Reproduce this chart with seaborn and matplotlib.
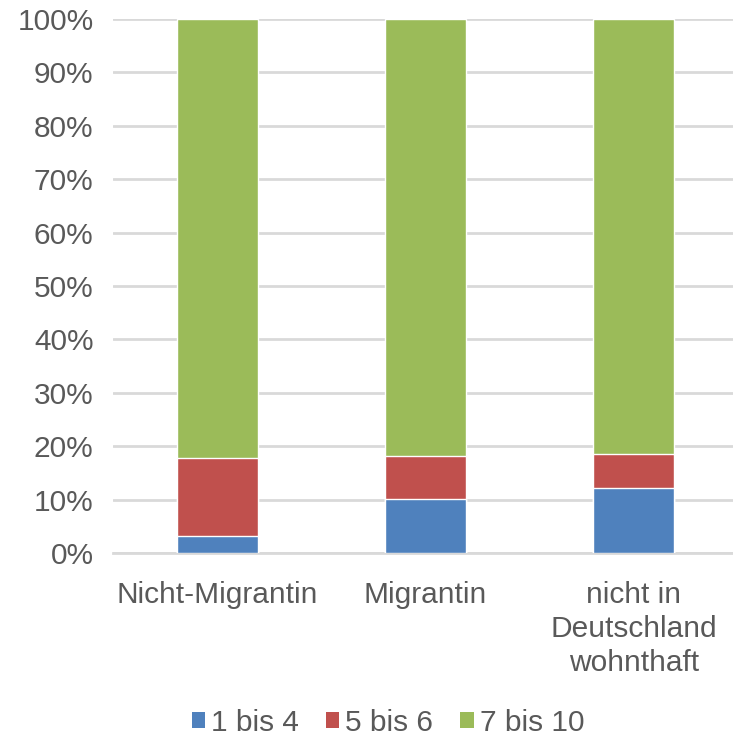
import matplotlib
matplotlib.use("Agg")
import matplotlib.pyplot as plt
import seaborn as sns
import pandas as pd
import numpy as np
from matplotlib.patches import Patch

categories = ["Nicht-Migrantin", "Migrantin", "nicht in\nDeutschland\nwohnthaft"]
series_names = ["1 bis 4", "5 bis 6", "7 bis 10"]
s1 = [3.1, 10.2, 12.2]
s2 = [14.7, 7.9, 6.4]
s3 = [82.2, 81.9, 81.4]
colors = ["#4F81BD", "#C0504D", "#9BBB59"]
yticks = [0, 10, 20, 30, 40, 50, 60, 70, 80, 90, 100]

sns.set_theme(style="white")
plt.rcParams["font.family"] = ["Liberation Sans", "DejaVu Sans"]

fig = plt.figure(figsize=(7.33, 7.39), dpi=100)
ax = fig.add_axes([113/733, (739-553)/739, 625/733, 534/739])

layers = [s1, s2, s3]
cum = np.cumsum(np.array(layers), axis=0)
for i in range(len(layers) - 1, -1, -1):
    df = pd.DataFrame({"cat": categories, "val": cum[i]})
    sns.barplot(data=df, x="cat", y="val", color=colors[i], width=0.39,
                saturation=1, ax=ax, zorder=3)

fs = 21.5
ax.set_ylim(0, 100)
ax.set_xlim(-0.5, 2.5)
ax.set_yticks(yticks)
ax.set_yticklabels([f"{v}%" for v in yticks])
ax.yaxis.grid(True, color="#d9d9d9", linewidth=2, zorder=0)
ax.set_axisbelow(True)
for sp in ["left", "right", "top"]:
    ax.spines[sp].set_visible(False)
ax.spines["bottom"].set_color("#d9d9d9")
ax.spines["bottom"].set_linewidth(2)
ax.set_xlabel("")
ax.set_ylabel("")
ax.tick_params(axis="both", length=0, labelsize=fs, labelcolor="#595959")
ax.tick_params(axis="y", pad=14)
ax.tick_params(axis="x", pad=20)
for lbl in ax.get_xticklabels():
    lbl.set_linespacing(1.27)

handles = [Patch(facecolor=c, edgecolor="none") for c in colors]
fig.legend(handles, series_names, loc="center", bbox_to_anchor=(388/733, 1 - 723/739),
           ncol=3, frameon=False, fontsize=fs, labelcolor="#595959",
           handlelength=0.45, handleheight=0.45, handletextpad=0.2, columnspacing=0.9)

fig.savefig("out.png", dpi=100)
